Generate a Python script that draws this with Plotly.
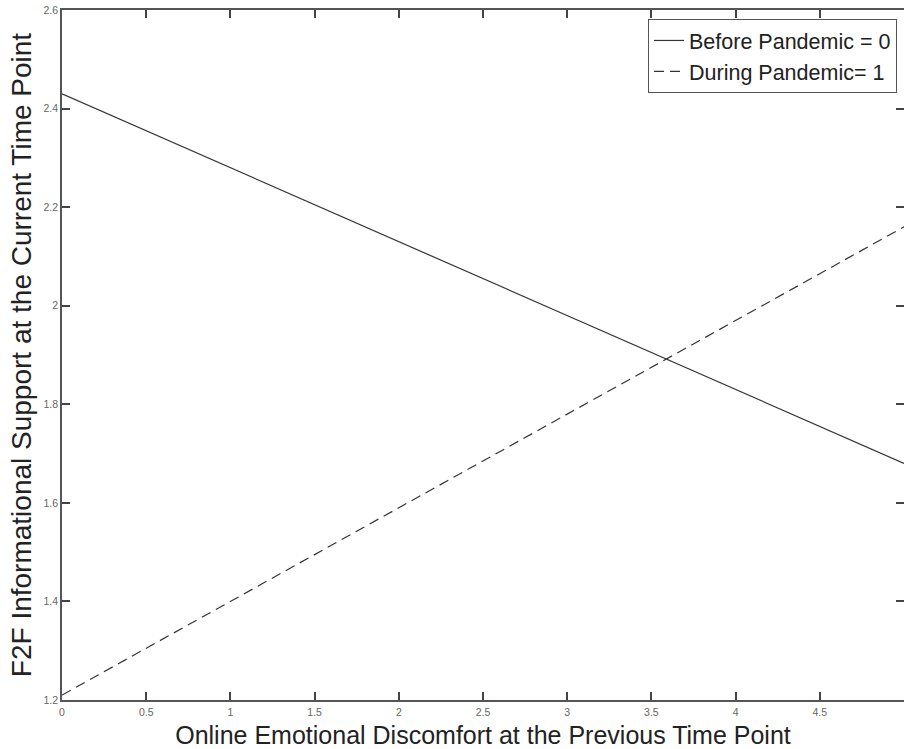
import plotly.graph_objects as go

x_vals = [0, 5]
before_vals = [2.43, 1.68]
during_vals = [1.21, 2.16]
x_ticks = [0, 0.5, 1, 1.5, 2, 2.5, 3, 3.5, 4, 4.5, 5]
x_tick_labels = ["0", "0.5", "1", "1.5", "2", "2.5", "3", "3.5", "4", "4.5", "5"]
y_ticks = [1.2, 1.4, 1.6, 1.8, 2, 2.2, 2.4, 2.6]
y_tick_labels = ["1.2", "1.4", "1.6", "1.8", "2", "2.2", "2.4", "2.6"]

fig = go.Figure()
fig.add_trace(go.Scatter(x=x_vals, y=before_vals, mode="lines", name="Before Pandemic = 0",
                         line=dict(color="#333333", width=1.2, dash="solid")))
fig.add_trace(go.Scatter(x=x_vals, y=during_vals, mode="lines", name="During Pandemic= 1",
                         line=dict(color="#333333", width=1.2, dash="10px,6px")))

axis_common = dict(showline=True, linecolor="#555555", linewidth=1.5, mirror="ticks",
                   ticks="inside", ticklen=8, tickwidth=1.5, tickcolor="#444444", showgrid=False,
                   zeroline=False, automargin=False,
                   tickfont=dict(family="Liberation Sans, Arial", size=10.5, color="#666666"))

fig.update_layout(
    width=904, height=749,
    margin=dict(l=62, r=0, t=10, b=49),
    paper_bgcolor="white", plot_bgcolor="white",
    font=dict(family="Liberation Sans, Arial", color="#222222"),
    xaxis=dict(range=[0, 5], tickvals=x_ticks, ticktext=x_tick_labels, ticklabelstandoff=2,
               title=dict(text="Online Emotional Discomfort at the Previous Time Point",
                          font=dict(size=25, color="#222222"), standoff=11),
               **axis_common),
    yaxis=dict(range=[1.2, 2.6], tickvals=y_ticks, ticktext=y_tick_labels,
               title=dict(text="F2F Informational Support at the Current Time Point",
                          font=dict(size=28, color="#222222"), standoff=4),
               **axis_common),
    legend=dict(x=0.9917, y=0.987, xanchor="right", yanchor="top",
                bgcolor="white", bordercolor="#555555", borderwidth=1,
                font=dict(size=21.5, color="#222222"), tracegroupgap=0, itemwidth=30),
    showlegend=True,
)

fig.write_html("out.html", config={"displayModeBar": False},
               post_script="document.body.style.margin='0';document.body.style.overflow='hidden';")
